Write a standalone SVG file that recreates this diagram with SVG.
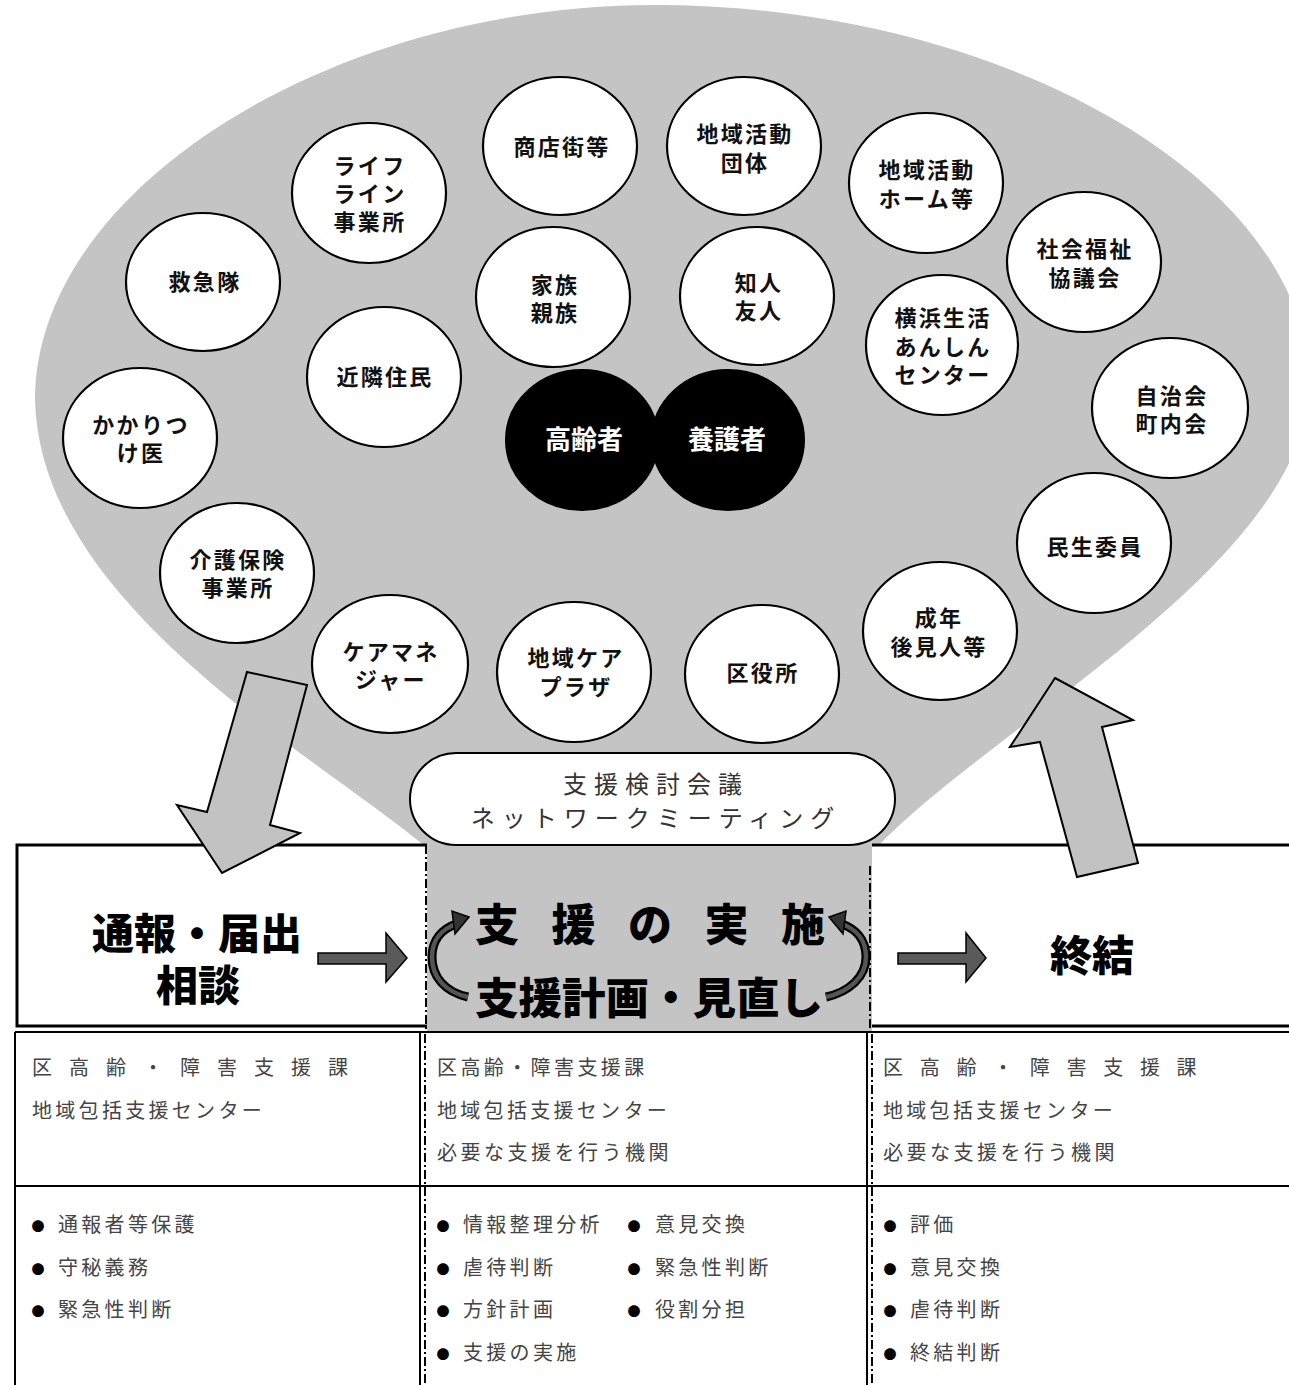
<svg xmlns="http://www.w3.org/2000/svg" width="1289" height="1385" viewBox="0 0 1289 1385">
<style>
.c{fill:#fff;stroke:#000;stroke-width:2.2}
.b{fill:#000;stroke:#000;stroke-width:2}
.t{font-family:"Liberation Sans","Noto Sans CJK JP","Noto Sans CJK SC",sans-serif;font-weight:700;font-size:22px;fill:#111;text-anchor:middle;letter-spacing:2.3px}
.w{font-family:"Noto Sans CJK JP",sans-serif;font-weight:700;font-size:26px;fill:#fff;text-anchor:middle}
.big{font-family:"Liberation Sans","Noto Sans CJK JP",sans-serif;font-weight:800;fill:#000}
.m{font-family:"Liberation Sans","Noto Sans CJK JP",sans-serif;font-weight:400;font-size:24px;fill:#333;text-anchor:middle;letter-spacing:7px}
.tb{font-family:"Noto Sans CJK JP",sans-serif;font-weight:400;font-size:20px;fill:#444}
.bu{font-family:"Noto Sans CJK JP",sans-serif;font-size:13px;fill:#000;text-anchor:middle}
.gray{fill:#c4c4c4}
.ln{stroke:#000;stroke-width:3;fill:none}
.thin{stroke:#000;stroke-width:2;fill:none}
.dd{stroke:#000;stroke-width:2;fill:none;stroke-dasharray:9 3 2 3}
.big-arrow{fill:#c2c2c2;stroke:#000;stroke-width:2;stroke-linejoin:miter}
.small-arrow{fill:#5a5a5a;stroke:#000;stroke-width:1.5}
</style>

<g id="background">
<path class="gray" d="M 425,846 C 300,745 40,600 35,400 C 35,190 330,5 655,5 C 990,5 1300,170 1310,380 C 1310,560 1000,720 878,846 Z"/>
<rect class="gray" x="427" y="845" width="445" height="186"/>
</g>

<g id="stage-report">
<rect x="17" y="845" width="410" height="181" fill="#fff"/>
<path class="ln" d="M 427,845 H 17 V 1026 H 427"/>
<text class="big" font-size="42" text-anchor="middle"><tspan x="197" y="949">通報・届出</tspan><tspan x="198" y="1001">相談</tspan></text>
</g>

<g id="stage-support">
<line class="dd" x1="426" y1="845" x2="426" y2="1030"/>
<line class="dd" x1="870" y1="866" x2="870" y2="1030"/>
<text class="big" font-size="44"><tspan x="475" y="941" textLength="350" lengthAdjust="spacing">支援の実施</tspan><tspan x="475" y="1014" font-size="43.5">支援計画・見直し</tspan></text>
</g>

<g id="stage-end">
<rect x="872" y="845" width="420" height="181" fill="#fff"/>
<path class="ln" d="M 872,845 H 1292 M 872,1026 H 1292"/>
<text class="big" x="1092" y="971" font-size="42" text-anchor="middle">終結</text>
</g>

<g id="n-lifeline"><ellipse class="c" cx="369" cy="193" rx="77" ry="70"/><text class="t"><tspan x="370" y="174">ライフ</tspan><tspan x="370" y="202">ライン</tspan><tspan x="370" y="230">事業所</tspan></text></g>
<g id="n-kyukyu"><ellipse class="c" cx="203" cy="282" rx="77" ry="69"/><text class="t" x="205" y="290">救急隊</text></g>
<g id="n-kinrin"><ellipse class="c" cx="384" cy="377" rx="77" ry="70"/><text class="t" x="385" y="385">近隣住民</text></g>
<g id="n-kakaritsuke"><ellipse class="c" cx="140" cy="438" rx="77" ry="70"/><text class="t"><tspan x="141" y="433">かかりつ</tspan><tspan x="141" y="461">け医</tspan></text></g>
<g id="n-shotengai"><ellipse class="c" cx="560" cy="146" rx="77" ry="69"/><text class="t" x="562" y="155">商店街等</text></g>
<g id="n-chiiki-dantai"><ellipse class="c" cx="744" cy="146" rx="77" ry="69"/><text class="t"><tspan x="745" y="142">地域活動</tspan><tspan x="745" y="171">団体</tspan></text></g>
<g id="n-kazoku"><ellipse class="c" cx="553" cy="297" rx="77" ry="70"/><text class="t"><tspan x="555" y="293">家族</tspan><tspan x="555" y="321">親族</tspan></text></g>
<g id="n-chijin"><ellipse class="c" cx="757" cy="296" rx="77" ry="69"/><text class="t"><tspan x="759" y="291">知人</tspan><tspan x="759" y="319">友人</tspan></text></g>
<g id="n-koreisha"><ellipse class="b" cx="582" cy="440" rx="76" ry="70"/><text class="w" x="584" y="449">高齢者</text></g>
<g id="n-yogosha"><ellipse class="b" cx="728" cy="440" rx="76" ry="70"/><text class="w" x="727" y="449">養護者</text></g>
<g id="n-chiiki-home"><ellipse class="c" cx="926" cy="183" rx="77" ry="70"/><text class="t"><tspan x="927" y="178">地域活動</tspan><tspan x="927" y="207">ホーム等</tspan></text></g>
<g id="n-shakyo"><ellipse class="c" cx="1084" cy="262" rx="77" ry="70"/><text class="t"><tspan x="1085" y="257">社会福祉</tspan><tspan x="1085" y="286">協議会</tspan></text></g>
<g id="n-anshin"><ellipse class="c" cx="942" cy="345" rx="76" ry="70"/><text class="t"><tspan x="943" y="326">横浜生活</tspan><tspan x="943" y="355">あんしん</tspan><tspan x="943" y="383">センター</tspan></text></g>
<g id="n-jichikai"><ellipse class="c" cx="1170" cy="408" rx="78" ry="70"/><text class="t"><tspan x="1172" y="404">自治会</tspan><tspan x="1172" y="432">町内会</tspan></text></g>
<g id="n-minsei"><ellipse class="c" cx="1094" cy="543" rx="77" ry="70"/><text class="t" x="1095" y="555">民生委員</text></g>
<g id="n-kouken"><ellipse class="c" cx="940" cy="631" rx="77" ry="69"/><text class="t"><tspan x="939" y="626">成年</tspan><tspan x="939" y="655">後見人等</tspan></text></g>
<g id="n-kaigo"><ellipse class="c" cx="237" cy="573" rx="77" ry="70"/><text class="t"><tspan x="238" y="568">介護保険</tspan><tspan x="238" y="596">事業所</tspan></text></g>
<g id="n-caremane"><ellipse class="c" cx="390" cy="664" rx="78" ry="69"/><text class="t"><tspan x="391" y="660">ケアマネ</tspan><tspan x="391" y="688">ジャー</tspan></text></g>
<g id="n-careplaza"><ellipse class="c" cx="574" cy="672" rx="77" ry="70"/><text class="t"><tspan x="576" y="666">地域ケア</tspan><tspan x="576" y="695">プラザ</tspan></text></g>
<g id="n-kuyakusho"><ellipse class="c" cx="762" cy="674" rx="77" ry="69"/><text class="t" x="763" y="681">区役所</text></g>

<g id="n-meeting">
<rect x="410" y="753" width="485" height="92" rx="46" fill="#fff" stroke="#000" stroke-width="2"/>
<text class="m"><tspan x="656" y="793">支援検討会議</tspan><tspan x="656" y="827">ネットワークミーティング</tspan></text>
</g>

<g id="connectors">
<polygon class="big-arrow" points="247,672 307,685 270,825 300,833 222,873 177,805 207,812"/>
<polygon class="big-arrow" points="1055,678 1133,720 1102,727 1138,863 1077,877 1040,742 1010,747"/>
<polygon class="small-arrow" points="318,953 386,953 386,933 407,958 386,982 386,964 318,964"/>
<polygon class="small-arrow" points="898,953 966,953 966,933 986,958 966,982 966,964 898,964"/>
<path d="M 468,997 C 445,992 432,977 432,957 C 432,940 442,929 456,924" fill="none" stroke="#000" stroke-width="9"/>
<path d="M 468,997 C 445,992 432,977 432,957 C 432,940 442,929 456,924" fill="none" stroke="#555" stroke-width="4.5"/>
<polygon points="469,917 452,911 455,934" fill="#333" stroke="#000" stroke-width="1.5"/>
<path d="M 826,997 C 849,992 866,977 866,957 C 866,940 856,929 842,924" fill="none" stroke="#000" stroke-width="9"/>
<path d="M 826,997 C 849,992 866,977 866,957 C 866,940 856,929 842,924" fill="none" stroke="#555" stroke-width="4.5"/>
<polygon points="829,917 846,911 843,934" fill="#333" stroke="#000" stroke-width="1.5"/>
</g>

<g id="table">
<path class="thin" d="M 15,1032 H 1289 M 15,1032 V 1385 M 15,1186 H 1289 M 420,1032 V 1385 M 867,1032 V 1385"/>
<line class="dd" x1="425" y1="1034" x2="425" y2="1385"/>
<line class="dd" x1="872" y1="1034" x2="872" y2="1385"/>
<text class="tb" x="32" y="1075" letter-spacing="17">区高齢・障害支援課</text>
<text class="tb" x="32" y="1118" letter-spacing="3.3">地域包括支援センター</text>
<text class="tb" x="437" y="1075" letter-spacing="3.4">区高齢・障害支援課</text>
<text class="tb" x="437" y="1118" letter-spacing="3.3">地域包括支援センター</text>
<text class="tb" x="437" y="1160" letter-spacing="3.5">必要な支援を行う機関</text>
<text class="tb" x="883" y="1075" letter-spacing="16.7">区高齢・障害支援課</text>
<text class="tb" x="883" y="1118" letter-spacing="3.3">地域包括支援センター</text>
<text class="tb" x="883" y="1160" letter-spacing="3.5">必要な支援を行う機関</text>

<text class="bu" x="38" y="1231">●</text><text class="tb" x="58" y="1232" letter-spacing="3.3">通報者等保護</text>
<text class="bu" x="38" y="1274">●</text><text class="tb" x="58" y="1275" letter-spacing="3.3">守秘義務</text>
<text class="bu" x="38" y="1316">●</text><text class="tb" x="58" y="1317" letter-spacing="3.3">緊急性判断</text>

<text class="bu" x="443" y="1231">●</text><text class="tb" x="463" y="1232" letter-spacing="3.3">情報整理分析</text>
<text class="bu" x="443" y="1274">●</text><text class="tb" x="463" y="1275" letter-spacing="3.3">虐待判断</text>
<text class="bu" x="443" y="1316">●</text><text class="tb" x="463" y="1317" letter-spacing="3.3">方針計画</text>
<text class="bu" x="443" y="1359">●</text><text class="tb" x="463" y="1360" letter-spacing="3.3">支援の実施</text>
<text class="bu" x="634" y="1231">●</text><text class="tb" x="655" y="1232" letter-spacing="3.3">意見交換</text>
<text class="bu" x="634" y="1274">●</text><text class="tb" x="655" y="1275" letter-spacing="3.3">緊急性判断</text>
<text class="bu" x="634" y="1316">●</text><text class="tb" x="655" y="1317" letter-spacing="3.3">役割分担</text>

<text class="bu" x="890" y="1231">●</text><text class="tb" x="910" y="1232" letter-spacing="3.3">評価</text>
<text class="bu" x="890" y="1274">●</text><text class="tb" x="910" y="1275" letter-spacing="3.3">意見交換</text>
<text class="bu" x="890" y="1316">●</text><text class="tb" x="910" y="1317" letter-spacing="3.3">虐待判断</text>
<text class="bu" x="890" y="1359">●</text><text class="tb" x="910" y="1360" letter-spacing="3.3">終結判断</text>
</g>
</svg>
